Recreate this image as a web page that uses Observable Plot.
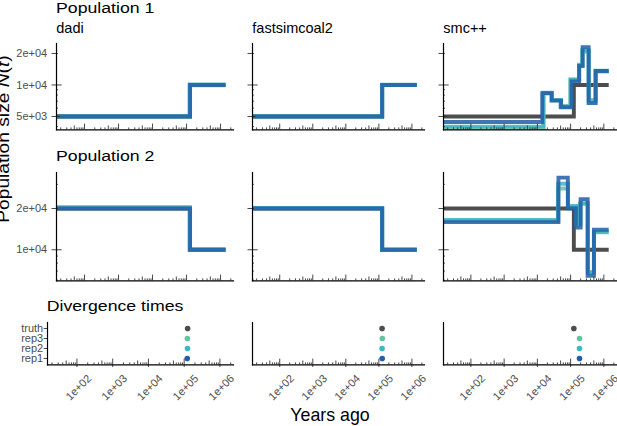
<!DOCTYPE html>
<html>
<head>
<meta charset="utf-8">
<script src="https://cdn.jsdelivr.net/npm/d3@7"></script>
<script src="https://cdn.jsdelivr.net/npm/@observablehq/plot@0.6"></script>
<style>
html, body { margin: 0; padding: 0; background: #fff; }
#chart { position: relative; width: 617px; height: 426px; overflow: hidden; background: #fff;
  font-family: "Liberation Sans", Arial, Helvetica, sans-serif; }
</style>
</head>
<body>
<div id="chart"></div>
<script>
// ---------------- data ----------------
const methods = ["dadi", "fastsimcoal2", "smc++"];
const seriesNames = ["truth", "rep3", "rep2", "rep1"];
const seriesColors = ["#4d4d4d", "#66c2a4", "#41b6c4", "#225ea8"];
const rowTitles = ["Population 1", "Population 2", "Divergence times"];
const xTitle = "Years ago";

const xDomain = [15, 2.4e6];
const pop1Domain = [3730, 24900];
const pop2Domain = [5940, 36600];
const xTickValues = [1e2, 1e3, 1e4, 1e5, 1e6];
const xTickLabels = ["1e+02", "1e+03", "1e+04", "1e+05", "1e+06"];
const pop1TickValues = [5e3, 1e4, 2e4];
const pop1TickLabels = ["5e+03", "1e+04", "2e+04"];
const pop2TickValues = [1e4, 2e4];
const pop2TickLabels = ["1e+04", "2e+04"];

// truth
const truthTimes = [15, 1.25e5, 1.4e6];
const truthPop1 = [5000, 10000, 10000];
const truthPop2 = [20000, 10000, 10000];
const truthSplit = 1.25e5;

// dadi
const dadiRep1Times = [15, 1.27e5, 1.4e6];
const dadiRep1Pop1 = [5000, 10000, 10000];
const dadiRep1Pop2 = [20000, 10000, 10000];
const dadiRep2Times = [15, 1.24e5, 1.4e6];
const dadiRep2Pop1 = [5040, 10100, 10100];
const dadiRep2Pop2 = [20450, 10050, 10050];
const dadiRep3Times = [15, 1.25e5, 1.4e6];
const dadiRep3Pop1 = [4970, 9950, 9950];
const dadiRep3Pop2 = [20300, 9980, 9980];
const dadiSplit = [1.22e5, 1.24e5, 1.23e5]; // rep1, rep2, rep3

// fastsimcoal2
const fscRep1Times = [15, 1.26e5, 1.4e6];
const fscRep1Pop1 = [5000, 10000, 10000];
const fscRep1Pop2 = [20000, 10000, 10000];
const fscRep2Times = [15, 1.25e5, 1.4e6];
const fscRep2Pop1 = [5020, 10050, 10050];
const fscRep2Pop2 = [20150, 10030, 10030];
const fscRep3Times = [15, 1.27e5, 1.4e6];
const fscRep3Pop1 = [4990, 9980, 9980];
const fscRep3Pop2 = [20100, 9990, 9990];
const fscSplit = [1.26e5, 1.25e5, 1.27e5];

// smc++
const smcRep1Pop1Times = [15, 14000, 26800, 51800, 107000, 180000, 230000, 348000, 566000, 1.4e6];
const smcRep1Pop1 = [4430, 8350, 7080, 6120, 10800, 15200, 22900, 6700, 13600, 13600];
const smcRep2Pop1Times = [15, 15000, 27000, 50000, 100000, 180000, 225000, 350000, 560000, 1.4e6];
const smcRep2Pop1 = [4000, 8450, 7150, 6200, 11300, 15600, 21500, 7000, 13700, 13700];
const smcRep3Pop1Times = [15, 15500, 27500, 50500, 98000, 182000, 228000, 352000, 570000, 1.4e6];
const smcRep3Pop1 = [3880, 8300, 7200, 6300, 11200, 15400, 20800, 7200, 13400, 13400];
const smcRep1Pop2Times = [15, 43000, 82400, 144000, 200000, 325000, 503000, 1.4e6];
const smcRep1Pop2 = [15900, 33600, 20100, 14500, 23400, 6460, 14000, 14000];
const smcRep2Pop2Times = [15, 42000, 84000, 150000, 195000, 330000, 500000, 1.4e6];
const smcRep2Pop2 = [16500, 30300, 20900, 15500, 21600, 6800, 13500, 13500];
const smcRep3Pop2Times = [15, 42500, 83000, 148000, 198000, 328000, 505000, 1.4e6];
const smcRep3Pop2 = [16300, 28000, 20600, 15200, 22000, 6900, 13400, 13400];
const smcSplit = [1.85e5, 1.85e5, 1.86e5];

// ---------------- assembly ----------------
function traj(series, times, sizes) {
  return times.map((t, i) => ({series, t, N: sizes[i]}));
}
const popData = [
  [ // Population 1
    [traj("truth", truthTimes, truthPop1), traj("rep3", dadiRep3Times, dadiRep3Pop1), traj("rep2", dadiRep2Times, dadiRep2Pop1), traj("rep1", dadiRep1Times, dadiRep1Pop1)],
    [traj("truth", truthTimes, truthPop1), traj("rep3", fscRep3Times, fscRep3Pop1), traj("rep2", fscRep2Times, fscRep2Pop1), traj("rep1", fscRep1Times, fscRep1Pop1)],
    [traj("truth", truthTimes, truthPop1), traj("rep3", smcRep3Pop1Times, smcRep3Pop1), traj("rep2", smcRep2Pop1Times, smcRep2Pop1), traj("rep1", smcRep1Pop1Times, smcRep1Pop1)]
  ],
  [ // Population 2
    [traj("truth", truthTimes, truthPop2), traj("rep3", dadiRep3Times, dadiRep3Pop2), traj("rep2", dadiRep2Times, dadiRep2Pop2), traj("rep1", dadiRep1Times, dadiRep1Pop2)],
    [traj("truth", truthTimes, truthPop2), traj("rep3", fscRep3Times, fscRep3Pop2), traj("rep2", fscRep2Times, fscRep2Pop2), traj("rep1", fscRep1Times, fscRep1Pop2)],
    [traj("truth", truthTimes, truthPop2), traj("rep3", smcRep3Pop2Times, smcRep3Pop2), traj("rep2", smcRep2Pop2Times, smcRep2Pop2), traj("rep1", smcRep1Pop2Times, smcRep1Pop2)]
  ]
];
const splitData = [dadiSplit, fscSplit, smcSplit].map(s => [
  {series: "truth", t: truthSplit},
  {series: "rep3", t: s[2]},
  {series: "rep2", t: s[1]},
  {series: "rep1", t: s[0]}
]);

// ---------------- layout ----------------
const FONT = '"Liberation Sans", Arial, Helvetica, sans-serif';
const colLeft = [56, 252, 443];
const colRight = [233, 424, 616];
const row3Left = [47, 252, 443];
const rowTop = [43, 171.7, 321.7];
const rowBottom = [129.3, 280, 364];
const LONG = 5.7, MID = 3.8, SHORT = 1.9;
const TICK = "#333";
const LABEL = "#4d4d4d";
const chart = document.getElementById("chart");

function logTicks(domain) {
  const out = {long: [], mid: [], short: []};
  for (let k = Math.floor(Math.log10(domain[0])); k <= Math.ceil(Math.log10(domain[1])); k++) {
    for (let m = 1; m <= 9; m++) {
      const v = m * Math.pow(10, k);
      if (v < domain[0] || v > domain[1]) continue;
      (m === 1 ? out.long : m === 5 ? out.mid : out.short).push(v);
    }
  }
  return out;
}

function place(svg, left, top) {
  svg.style.position = "absolute";
  svg.style.left = left + "px";
  svg.style.top = top + "px";
  svg.style.overflow = "visible";
  svg.style.background = "transparent";
  chart.append(svg);
}

function xInnerTicks(ph) {
  const t = logTicks(xDomain);
  return [
    Plot.ruleX(t.long, {insetTop: ph - LONG, stroke: TICK, strokeWidth: 0.9}),
    Plot.ruleX(t.mid, {insetTop: ph - MID, stroke: TICK, strokeWidth: 0.9}),
    Plot.ruleX(t.short, {insetTop: ph - SHORT, stroke: TICK, strokeWidth: 0.9})
  ];
}
function yInnerTicks(domain, pw) {
  const t = logTicks(domain);
  return [
    Plot.ruleY(t.long, {insetRight: pw - LONG, stroke: TICK, strokeWidth: 0.9}),
    Plot.ruleY(t.mid, {insetRight: pw - MID, stroke: TICK, strokeWidth: 0.9}),
    Plot.ruleY(t.short, {insetRight: pw - SHORT, stroke: TICK, strokeWidth: 0.9})
  ];
}
const axisLines = () => [
  Plot.frame({anchor: "bottom", stroke: "#000", strokeWidth: 1.2}),
  Plot.frame({anchor: "left", stroke: "#000", strokeWidth: 1.2})
];

// rows 1 and 2: population size trajectories
[0, 1].forEach(r => {
  const yDomain = r === 0 ? pop1Domain : pop2Domain;
  const yTicks = r === 0 ? pop1TickValues : pop2TickValues;
  const yLabels = r === 0 ? pop1TickLabels : pop2TickLabels;
  const yTickData = yTicks.map((v, i) => ({v, label: yLabels[i]}));
  [0, 1, 2].forEach(c => {
    const pw = colRight[c] - colLeft[c];
    const ph = rowBottom[r] - rowTop[r];
    const ml = c === 0 ? 50 : 8, mr = 6, mt = 6, mb = 6;
    const lines = popData[r][c].map((d, i) => Plot.line(d, {
      x: "t", y: "N", curve: "step-after",
      stroke: seriesColors[i], strokeWidth: 3.9,
      strokeOpacity: i === 0 ? 1 : 0.86,
      strokeLinecap: "butt", strokeLinejoin: "miter", strokeMiterlimit: 4
    }));
    const yLabelMarks = c === 0
      ? [Plot.text(yTickData, {y: "v", text: "label", frameAnchor: "left", textAnchor: "end",
          dx: -9.3, fontSize: 11, fill: LABEL})]
      : [];
    const svg = Plot.plot({
      width: ml + pw + mr, height: mt + ph + mb,
      marginLeft: ml, marginRight: mr, marginTop: mt, marginBottom: mb,
      x: {type: "log", domain: xDomain, axis: null},
      y: {type: "log", domain: yDomain, axis: null},
      style: {fontFamily: FONT, fontSize: "11px", background: "transparent", overflow: "visible"},
      marks: [
        ...lines,
        ...xInnerTicks(ph),
        ...yInnerTicks(yDomain, pw),
        Plot.ruleY(yTicks, {insetLeft: -4.5, insetRight: pw, stroke: TICK, strokeWidth: 0.9}),
        ...yLabelMarks,
        ...axisLines()
      ]
    });
    place(svg, colLeft[c] - ml, rowTop[r] - mt);
  });
});

// row 3: divergence times
const xTickData = xTickValues.map((v, i) => ({v, label: xTickLabels[i]}));
[0, 1, 2].forEach(c => {
  const left = row3Left[c];
  const pw = colRight[c] - left;
  const ph = rowBottom[2] - rowTop[2];
  const ml = c === 0 ? 45 : 8, mr = 6, mt = 6, mb = 50;
  const yAxis = c === 0
    ? [Plot.ruleY(seriesNames, {insetLeft: -3.3, insetRight: pw, stroke: TICK, strokeWidth: 0.9}),
       Plot.text(seriesNames, {y: d => d, text: d => d, frameAnchor: "left", textAnchor: "end",
         dx: -4.3, fontSize: 11, fill: LABEL})]
    : [];
  const svg = Plot.plot({
    width: ml + pw + mr, height: mt + ph + mb,
    marginLeft: ml, marginRight: mr, marginTop: mt, marginBottom: mb,
    x: {type: "log", domain: xDomain, axis: null},
    y: {type: "point", domain: seriesNames, padding: 0.545, axis: null},
    color: {domain: seriesNames, range: seriesColors},
    style: {fontFamily: FONT, fontSize: "11px", background: "transparent", overflow: "visible"},
    marks: [
      ...xInnerTicks(ph),
      Plot.ruleX(xTickValues, {insetTop: ph, insetBottom: -2.7, stroke: TICK, strokeWidth: 0.9}),
      Plot.text(xTickData, {x: "v", text: "label", frameAnchor: "bottom", dy: 22.7, dx: 1.6,
        rotate: -45, textAnchor: "middle", lineAnchor: "middle", fontSize: 11, fill: LABEL}),
      Plot.dot(splitData[c], {x: "t", y: "series", fill: "series", r: 2.8}),
      ...yAxis,
      ...axisLines()
    ]
  });
  place(svg, left - ml, rowTop[2] - mt);
});

// ---------------- titles ----------------
const overlay = d3.create("svg")
  .attr("width", 617).attr("height", 426)
  .style("position", "absolute").style("left", "0px").style("top", "0px")
  .style("pointer-events", "none").style("font-family", FONT);

const titleY = [12.7, 160.7, 310.7];
const titleX = [56, 56, 46.7];
rowTitles.forEach((t, i) => {
  overlay.append("text")
    .attr("transform", `translate(${titleX[i]},${titleY[i]}) scale(1.18,1)`)
    .attr("font-size", 15).attr("fill", "#000").text(t);
});
methods.forEach((m, i) => {
  overlay.append("text")
    .attr("x", colLeft[i] + 0.3).attr("y", 33.3)
    .attr("font-size", 14.5).attr("fill", "#000").text(m);
});
overlay.append("text")
  .attr("x", 330).attr("y", 421).attr("text-anchor", "middle")
  .attr("font-size", 17.8).attr("fill", "#000").text(xTitle);
const yt = overlay.append("text")
  .attr("transform", "translate(8.5,139) rotate(-90) scale(1.2,1)")
  .attr("text-anchor", "middle").attr("font-size", 16).attr("fill", "#000");
yt.append("tspan").text("Population size ");
yt.append("tspan").attr("font-style", "italic").text("N");
yt.append("tspan").text("(");
yt.append("tspan").attr("font-style", "italic").text("t");
yt.append("tspan").text(")");
chart.append(overlay.node());
</script>
</body>
</html>
